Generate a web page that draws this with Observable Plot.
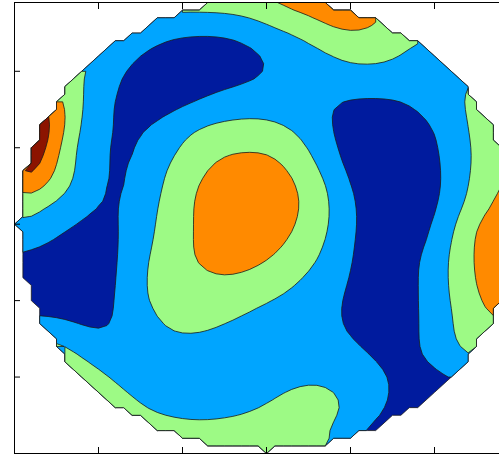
<!DOCTYPE html>
<html><head><meta charset="utf-8">
<style>html,body{margin:0;padding:0;background:#fff;}</style>
<script src="https://cdn.jsdelivr.net/npm/d3@7"></script>
<script src="https://cdn.jsdelivr.net/npm/@observablehq/plot@0.6"></script>
</head><body><div id="chart"></div>
<script>
// sample positions (data units)
const xs = [-3,-2.75,-2.5,-2.25,-2,-1.75,-1.5,-1.25,-1,-0.75,-0.5,-0.25,0,0.25,0.5,0.75,1,1.25,1.5,1.75,2,2.25,2.5,2.75,3];
const ys = [3,2.75,2.5,2.25,2,1.75,1.5,1.25,1,0.75,0.5,0.25,0,-0.25,-0.5,-0.75,-1,-1.25,-1.5,-1.75,-2,-2.25,-2.5,-2.75,-3];
const _ = null;
// field values, one row per y
const rows = [
 [_,_,_,_,_,_,_,2.3,2.4,2.6,2.7,2.9,3.1,3.5,3.55,3.55,3.4,3.1,_,_,_,_,_,_,_],
 [_,_,_,_,_,2.2,2.2,2.1,2.05,2.0,2.0,2.1,2.4,2.9,3.15,3.45,3.6,3.4,2.9,2.5,_,_,_,_,_],
 [_,_,_,2.2,2.2,2.1,1.9,1.3,1.05,1.0,1.05,1.3,1.6,1.85,2.25,2.85,3.0,2.9,2.5,2.2,2.0,1.8,_,_,_],
 [_,_,2.3,2.25,2.05,1.8,0.9,0.6,0.5,0.45,0.5,0.7,1.1,1.45,1.7,1.95,2.3,2.35,2.15,1.85,1.7,1.8,2.0,_,_],
 [_,2.8,2.6,2.2,1.6,1.05,0.6,0.35,0.3,0.3,0.35,0.55,0.95,1.25,1.5,1.7,1.85,1.85,1.8,1.6,1.5,1.6,1.9,2.2,_],
 [_,3.5,2.9,2.15,1.5,0.95,0.5,0.35,0.4,0.75,1.1,1.25,1.35,1.45,1.45,1.2,1.1,1.1,1.1,1.2,1.4,1.9,2.2,2.4,_],
 [5.0,4.8,3.7,2.1,1.3,0.8,0.5,0.7,1.1,1.4,1.6,1.7,1.7,1.5,1.2,0.95,0.8,0.75,0.8,0.98,1.3,1.8,2.3,2.6,2.8],
 [5.3,4.9,3.8,1.95,1.3,0.8,0.9,1.3,1.85,2.15,2.3,2.35,2.3,2.1,1.6,1.0,0.6,0.45,0.45,0.6,0.95,1.6,2.3,2.7,2.9],
 [5.3,5.0,3.2,1.7,1.2,0.7,1.05,1.6,2.05,2.6,2.85,2.9,2.9,2.6,2.0,1.2,0.6,0.35,0.3,0.45,0.85,1.5,2.2,2.6,2.85],
 [5.1,4.3,3.0,1.8,1.2,0.7,1.3,1.85,2.4,2.9,3.3,3.45,3.4,3.0,2.4,1.5,0.7,0.35,0.25,0.35,0.75,1.45,2.2,2.7,3.0],
 [4.3,3.4,2.7,1.7,1.1,0.75,1.35,1.95,2.6,3.2,3.55,3.7,3.65,3.3,2.7,1.95,0.95,0.45,0.3,0.35,0.7,1.5,2.3,3.0,3.4],
 [2.6,2.2,1.8,1.35,1.0,0.8,1.5,2.1,2.75,3.3,3.6,3.75,3.7,3.4,2.8,2.05,1.15,0.5,0.3,0.35,0.8,1.6,2.5,3.2,3.6],
 [2.3,1.7,1.25,0.95,0.7,0.9,1.55,2.2,2.75,3.25,3.55,3.7,3.6,3.25,2.7,2.05,1.15,0.55,0.35,0.5,1.0,2.0,3.1,3.6,3.8],
 [1.5,1.2,0.85,0.6,0.5,0.95,1.7,2.25,2.8,3.25,3.5,3.55,3.4,3.0,2.45,1.9,1.05,0.55,0.4,0.6,1.25,2.2,3.2,3.7,3.9],
 [0.5,0.45,0.4,0.35,0.45,1.0,1.85,2.35,2.8,3.2,3.35,3.25,3.0,2.6,2.2,1.7,1.0,0.55,0.45,0.8,1.5,2.25,3.2,3.7,3.9],
 [0.35,0.3,0.25,0.3,0.5,1.05,1.95,2.35,2.6,2.8,2.9,2.8,2.55,2.25,1.8,1.4,0.95,0.5,0.4,0.8,1.5,2.25,3.1,3.6,3.8],
 [0.4,0.35,0.3,0.35,0.6,1.1,1.9,2.3,2.45,2.55,2.5,2.3,2.05,1.8,1.5,1.2,0.85,0.5,0.4,0.8,1.5,2.15,2.95,3.4,3.6],
 [1.2,1.15,1.1,0.8,0.7,1.1,1.6,2.1,2.3,2.25,2.05,1.85,1.6,1.4,1.25,1.2,0.85,0.55,0.45,0.8,1.4,2.05,2.7,3.0,3.1],
 [2.1,2.1,2.05,1.6,1.1,1.2,1.55,1.85,1.95,1.9,1.75,1.6,1.45,1.35,1.3,1.2,1.05,0.7,0.5,0.8,1.45,2.1,2.5,2.6,2.6],
 [_,2.5,2.4,2.2,1.75,1.55,1.5,1.5,1.5,1.45,1.4,1.35,1.35,1.4,1.45,1.45,1.3,1.05,0.7,0.75,1.2,1.8,2.1,2.3,_],
 [_,2.6,2.5,2.4,2.2,1.85,1.6,1.45,1.35,1.3,1.35,1.5,1.7,1.85,1.9,1.85,1.6,1.25,0.95,0.6,0.7,1.0,1.3,1.5,_],
 [_,_,2.6,2.5,2.4,2.15,1.9,1.6,1.45,1.4,1.5,1.65,1.85,2.05,2.25,2.2,1.8,1.35,0.95,0.6,0.5,0.7,0.9,_,_],
 [_,_,_,2.6,2.6,2.5,2.15,2.0,1.9,1.85,1.9,2.0,2.2,2.4,2.5,2.35,1.85,1.15,0.8,0.6,0.6,0.7,_,_,_],
 [_,_,_,_,_,2.5,2.5,2.45,2.4,2.4,2.45,2.5,2.6,2.6,2.45,2.05,1.0,0.6,0.5,0.6,_,_,_,_,_],
 [_,_,_,_,_,_,_,2.5,2.5,2.5,2.55,2.6,2.7,2.6,2.5,2.2,1.1,0.7,_,_,_,_,_,_,_]
];
const thresholds = [-1000, 1, 2, 3, 4];
const colors = ["#001b9e", "#00a5ff", "#9dfa85", "#ff8a00", "#8c1400"];
const xTicks = [-2, -1, 0, 1, 2];
const yTicks = [-2, -1, 0, 1, 2];

const samples = [];
rows.forEach((row, j) => row.forEach((v, i) => { if (v != null) samples.push({x: xs[i], y: ys[j], v}); }));

const R = 3;        // domain radius (data units)
const step = 0.1;   // computation grid spacing (data units)
const half = R + 1.5 * step;           // grid half extent
const n = Math.round(2 * half / step); // cells per side
function interpolate(index, width, height, X, Y, V) {
  const F = Plot.interpolatorBarycentric()(index, width, height, X, Y, V);
  d3.blur2({data: F, width, height}, 0.8);
  const c = (width - 1) / 2, rc = R / step;
  for (let j = 0; j < height; ++j) for (let i = 0; i < width; ++i) {
    const dx = i - c, dy = j - c;
    if (dx * dx + dy * dy > rc * rc + 0.01) F[j * width + i] = NaN;
  }
  return F;
}

const chart = Plot.plot({
  width: 499, height: 456,
  marginLeft: 14, marginRight: -19, marginTop: 2, marginBottom: 3,
  x: {domain: [-3, 3]},
  y: {domain: [-3, 2.9]},
  color: {type: "ordinal", domain: thresholds, range: colors},
  marks: [
    Plot.contour(samples, {
      x: "x", y: "y", fill: "v",
      x1: -half, x2: half, y1: -half, y2: half,
      width: n, height: n,
      interpolate, thresholds,
      stroke: "#1a1a1a", strokeWidth: 0.8, clip: true
    }),
    Plot.axisX(xTicks, {anchor: "bottom", tickSize: -6, tickFormat: () => "", label: null}),
    Plot.axisX(xTicks, {anchor: "top", tickSize: -6, tickFormat: () => "", label: null}),
    Plot.axisY(yTicks, {anchor: "left", tickSize: -6, tickFormat: () => "", label: null}),
    Plot.frame({stroke: "black"})
  ]
});
document.getElementById("chart").appendChild(chart);
</script></body></html>
